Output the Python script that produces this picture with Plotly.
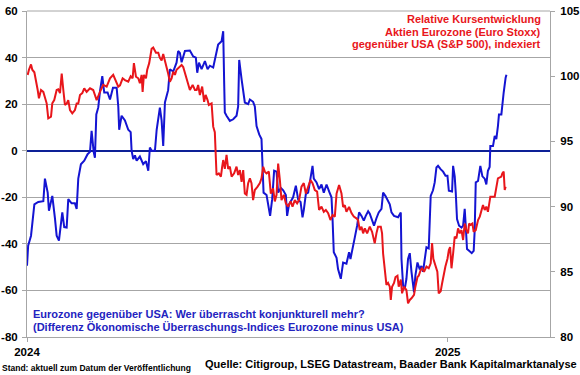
import pandas as pd
import plotly.graph_objects as go

# ---- data (days since 2024-01-01, values) ----
blue_days = [0, 1, 3.5, 6.4, 9.8, 14.2, 15.6, 18, 19.1, 22, 24.3, 25.8, 27.8, 29.6, 30.7, 32.4, 34.5, 35.9, 38.8, 41.7, 43.2, 44.6, 46.9, 49.8, 52.7, 54.8, 56.2, 58, 59.1, 60.3, 62, 63.5, 65.5, 67.2, 70.1, 72.2, 74.8, 78, 79.4, 80.2, 82.3, 85.2, 88.1, 90.2, 91, 92.4, 93.9, 95.4, 98.2, 101.1, 103.5, 105.5, 106.9, 108.4, 111.3, 112.8, 114.2, 115.6, 117.1, 118.5, 120, 122.8, 124.3, 127.2, 130.1, 131.5, 133, 134.5, 137.4, 141.7, 144.6, 146.9, 148.1, 149.6, 151.9, 154.8, 157.1, 159.1, 162, 164, 166.3, 169.3, 170.7, 171.5, 172.1, 173.6, 176.5, 179.4, 182.3, 183.7, 184.6, 186.7, 189.5, 192.4, 193.9, 196.7, 198.2, 199.7, 202, 204, 204.9, 205.8, 208.4, 209.8, 211.5, 213.3, 215, 217.1, 218.5, 220.8, 222.9, 225.2, 226.3, 228, 230.1, 231.5, 233.9, 235.9, 238, 239.7, 240.8, 242.6, 244.6, 246.6, 248.4, 249.5, 251.9, 254.1, 256.2, 258.2, 260.6, 262.8, 264.9, 265.8, 266.9, 269.3, 270.6, 273, 275, 277.9, 280.2, 281.4, 283.2, 285.2, 287.2, 288.9, 291, 293, 294.7, 296.8, 298.2, 299.7, 301.9, 304, 306, 308.4, 309.8, 311.9, 313.6, 315.6, 317.1, 319.3, 322.8, 325.2, 325.8, 327.2, 328.6, 330.1, 331.5, 333, 334.5, 336.7, 337.9, 339.7, 341.7, 343.1, 344.5, 346, 347.5, 349.5, 350.4, 351.2, 353.2, 354.7, 356.2, 357.6, 360, 362, 364.1, 365.8, 367, 369.8, 370.7, 372.1, 373, 374.1, 375.9, 378, 379.4, 380.8, 381.7, 382.8, 384.6, 386.9, 388.6, 389.5, 390.4, 392.4, 394.4, 396.2, 398.2, 399.6, 401, 402.5, 403.1, 405.4, 406.9, 408.3, 409.7, 410.6, 412.7, 413.5, 414.7, 416.4, 417.1]
blue_vals = [-49.4, -40.8, -36.5, -23, -22, -21.7, -12, -18, -25.8, -19.4, -29, -36.5, -38.6, -30, -26.5, -32.8, -33, -20.8, -22.6, -22.6, -25, -12, -5.8, -4.3, -1.5, -0.5, 8.5, -0.5, -3, 15.6, 18.6, 25.6, 32, 25, 25, 22, 27, 27, 19, 9, 15, 13, 9, 8, 0, -3.6, -2, -4.3, -2.5, -5.8, -4.5, -8.6, 1.4, 0, 0, 9, 15, 18.5, 13, 2, 20.7, 26, 35, 34, 37.8, 42.8, 42, 38, 42.8, 43, 40.5, 40, 33.5, 37.8, 35, 38.5, 35, 36.5, 35.7, 40.6, 45.6, 47, 51.3, 30, 16.4, 15, 12.8, 13.5, 15, 19, 39, 30.6, 20.7, 20, 22, 21, 19, 10.6, 7, 5, -5, -18, -19, -23.5, -28, -20.8, -8.6, -9, -18, -16, -17, -19, -28, -23, -21.5, -20, -15, -21, -22, -28.6, -25.5, -18.5, -18, -12, -6.5, -12, -13.6, -16.5, -14.5, -18, -14.5, -17.5, -20, -29, -43.6, -46, -50.8, -55, -48, -48.5, -43.6, -46.5, -41.3, -37.2, -32.2, -26.5, -28, -30, -28, -26, -27, -29, -32.2, -29, -26.5, -25, -18, -19.5, -21, -23, -26.5, -28, -28.6, -26.5, -46.5, -58, -59.4, -55, -46.5, -44, -52, -60.8, -53.5, -48, -51, -49.5, -52, -46.5, -41.5, -42, -32.2, -19.4, -17, -13.6, -7.2, -6.5, -8, -9, -10.8, -10.8, -17.2, -17.5, -6.5, -11, -18, -29.4, -32.2, -33, -32.2, -25, -32.2, -42.2, -43, -44, -43, -34, -13.6, -13, -6.5, -11, -12, -14.5, -8.6, -7, 2, 2, 6.3, 5, 10.6, 15.6, 15.6, 20.7, 25, 31.4, 32.6]

red_days = [0.6, 1.7, 3.5, 4.6, 6.4, 7.5, 9.3, 10.4, 12.2, 14.2, 15.6, 17.1, 18.5, 20.9, 22, 23.7, 25.8, 27.2, 28.7, 30.2, 31.6, 33, 34.5, 35.9, 37.4, 39.4, 41.7, 43.2, 44.6, 46.1, 48.1, 49.8, 51.9, 54.8, 57.6, 60.6, 63.5, 66.3, 69.3, 72.2, 75, 77.4, 79.4, 80.9, 83.2, 85.2, 88.1, 90.2, 91.9, 93, 94.8, 96.8, 98.2, 99.7, 100.6, 101.7, 103.5, 104.6, 106.3, 108.4, 109.8, 112.2, 114.2, 115.6, 117.1, 118.5, 120, 121.5, 122.8, 124.3, 125.8, 127.2, 128.7, 130.1, 133, 134.5, 135.9, 138.2, 140.2, 141.7, 144.1, 146.1, 147.6, 148.9, 150.4, 152.4, 154.1, 155.4, 157.1, 158.2, 160.6, 162, 163.4, 164, 164.9, 166.9, 168.7, 169.8, 170.7, 172.1, 173.6, 175, 176.5, 178, 180.2, 182.3, 183.7, 185.2, 186.7, 188.1, 189.5, 191, 192.4, 193.9, 195.3, 196.7, 198.2, 200.6, 202.6, 204, 205.5, 206.9, 208.4, 210.4, 212.1, 214.1, 215.6, 217.1, 218.5, 220, 221.4, 223.4, 225.2, 227.2, 229.3, 231, 233, 235, 236.7, 238.8, 240.8, 242.6, 244.6, 246.6, 248.4, 250.4, 252.4, 254.1, 256.2, 258.2, 260, 262, 264, 265.8, 267.8, 269.3, 271.5, 273.6, 275, 276.5, 277.9, 280.2, 282.3, 284.3, 286.6, 288, 289.5, 291, 292.4, 293.9, 295.9, 298.2, 300.2, 302.5, 304, 305.4, 307.8, 308.9, 309.8, 311.2, 312.7, 314.1, 315.6, 316.5, 317.6, 319.3, 320.6, 322.3, 323.4, 325.2, 326.3, 328, 330.1, 331.5, 333, 334.5, 336.7, 337.9, 339.7, 340.8, 342.5, 343.7, 345.4, 347.5, 349.5, 351.2, 352.4, 353.5, 355.3, 357, 358.2, 359.9, 361.1, 362.8, 364, 365.8, 367, 368.1, 369.3, 370.7, 372.1, 373.6, 375, 376.5, 378, 379.4, 380.8, 382.3, 383.7, 384.6, 385.8, 387.5, 388.6, 390.4, 392.4, 393.9, 395.3, 396.7, 398.2, 399.6, 401, 401.9, 403.1, 406.9, 408.3, 409.7, 412.7, 413.5, 414.7, 415.6, 416.4]
red_vals = [100.1, 100.5, 100.9, 100.5, 100.3, 99.84, 98.94, 98.3, 98.94, 98.8, 98.3, 97.92, 96.77, 96.9, 97.92, 98.17, 98.94, 99.0, 98.7, 100.2, 98.94, 97.8, 97.9, 98.17, 97.4, 97.15, 97.4, 97.9, 97.9, 98.56, 98.7, 99.07, 98.8, 99.07, 98.94, 98.17, 98.8, 99.33, 99.2, 99.84, 100.1, 99.6, 99.2, 99.3, 99.84, 99.7, 99.58, 100.0, 99.84, 101.0, 99.96, 99.84, 99.46, 100.1, 98.8, 100.1, 99.84, 100.5, 101.0, 102.1, 102.2, 101.8, 101.8, 101.4, 101.2, 101.7, 101.2, 100.8, 100.2, 99.58, 99.84, 100.35, 100.1, 100.5, 100.7, 100.86, 100.7, 99.96, 99.46, 98.94, 99.33, 98.94, 98.94, 99.33, 98.56, 99.2, 98.04, 98.56, 98.17, 97.8, 97.92, 96.13, 95.7, 94.21, 92.42, 92.55, 92.3, 93.06, 93.57, 92.9, 93.96, 92.9, 93.06, 92.3, 92.55, 93.06, 92.42, 92.8, 91.9, 92.8, 91.0, 90.9, 91.8, 92.17, 91.8, 90.5, 91.27, 91.53, 91.8, 92.17, 93.06, 92.68, 92.55, 92.68, 91.0, 91.4, 90.4, 90.9, 93.3, 92.04, 90.5, 90.9, 90.25, 90.0, 90.4, 90.0, 90.5, 90.25, 90.5, 91.53, 91.8, 91.0, 91.53, 92.04, 91.8, 91.27, 91.15, 89.74, 90.0, 89.6, 89.74, 89.5, 88.97, 89.36, 89.23, 91.0, 91.66, 91.0, 89.97, 90.1, 89.6, 89.97, 89.5, 89.23, 89.1, 88.97, 88.2, 88.46, 87.95, 88.33, 87.95, 88.46, 88.07, 87.18, 87.95, 88.46, 88.46, 87.95, 86.4, 85.4, 84.0, 84.15, 83.86, 82.84, 83.86, 84.15, 84.6, 84.7, 83.86, 84.4, 83.35, 83.86, 83.6, 82.58, 82.84, 82.97, 83.23, 83.86, 84.6, 84.7, 85.14, 85.27, 85.0, 85.4, 85.27, 85.65, 87.2, 86.0, 85.5, 85.0, 83.35, 83.5, 84.1, 84.9, 85.4, 86.0, 86.67, 86.9, 85.27, 86.4, 87.7, 87.56, 88.33, 87.95, 88.2, 87.44, 88.7, 88.2, 87.95, 88.7, 88.6, 88.7, 88.07, 88.2, 88.97, 89.23, 89.6, 90.12, 89.74, 90.0, 89.6, 90.0, 90.76, 90.76, 91.53, 92.17, 92.3, 92.55, 92.68, 91.27, 91.53]

left_ticks = [-80, -60, -40, -20, 0, 20, 40, 60]
left_labels = ["-80", "-60", "-40", "-20", "0", "20", "40", "60"]
right_ticks = [80, 85, 90, 95, 100, 105]
x_ticks = ["2024-01-01", "2025-01-01"]
x_labels = ["2024", "2025"]

red_title = ["Relative Kursentwicklung", "Aktien Eurozone (Euro Stoxx)", "gegenüber USA (S&amp;P 500), indexiert"]
blue_title = ["Eurozone gegenüber USA: Wer überrascht konjunkturell mehr?",
              "(Differenz Ökonomische Überraschungs-Indices Eurozone minus USA)"]
source = "Quelle: Citigroup, LSEG Datastream, Baader Bank Kapitalmarktanalyse"
stand = "Stand: aktuell zum Datum der Veröffentlichung"

base = pd.Timestamp("2024-01-01")
blue_x = base + pd.to_timedelta(blue_days, unit="D")
red_x = base + pd.to_timedelta(red_days, unit="D")

RED = "#e8161b"
BLUE = "#1414d2"
TEXTBLUE = "#2323c0"
ZERO = "#0d2096"
GRID = "#a6a6a6"
FONT = "Arial, Liberation Sans, sans-serif"

fig = go.Figure()
fig.add_trace(go.Scatter(x=blue_x, y=blue_vals, mode="lines",
                         line=dict(color=BLUE, width=2), yaxis="y", showlegend=False))
fig.add_trace(go.Scatter(x=red_x, y=red_vals, mode="lines",
                         line=dict(color=RED, width=2), yaxis="y2", showlegend=False))

tick_font = dict(family=FONT, size=11.5, color="black", weight="bold")
fig.update_layout(
    width=580, height=375,
    margin=dict(l=27, r=30, t=11, b=38, autoexpand=False),
    paper_bgcolor="white", plot_bgcolor="white",
    font=dict(family=FONT, size=11, color="black"),
    xaxis=dict(range=["2024-01-01", "2025-03-31"], tickvals=x_ticks, ticktext=x_labels,
               showgrid=False, showline=True, linecolor=GRID, linewidth=1,
               ticks="outside", ticklen=4, tickcolor=GRID, automargin=False,
               tickfont=tick_font, zeroline=False),
    yaxis=dict(range=[-80, 60], tickvals=left_ticks, ticktext=left_labels,
               showgrid=True, gridcolor=GRID, gridwidth=1,
               showline=True, linecolor=GRID, linewidth=1,
               ticks="outside", ticklen=4, tickcolor=GRID, automargin=False,
               tickfont=tick_font,
               zeroline=True, zerolinecolor=ZERO, zerolinewidth=2,
               ticklabelstandoff=2),
    yaxis2=dict(range=[80, 105], tickvals=right_ticks, overlaying="y", side="right",
                showgrid=False, showline=True, linecolor=GRID, linewidth=1,
                ticks="outside", ticklen=4, tickcolor=GRID, automargin=False,
                tickfont=tick_font, zeroline=False, ticklabelstandoff=3),
)

# top border line (gray)
fig.add_shape(type="line", xref="paper", yref="paper", x0=0, x1=1, y0=1, y1=1,
              line=dict(color=GRID, width=1))

red_y = [0.9755, 0.9356, 0.8988]
for t, yy in zip(red_title, red_y):
    fig.add_annotation(text=t, xref="paper", yref="paper", x=0.9866, y=yy,
                       xanchor="right", yanchor="middle", showarrow=False,
                       font=dict(family=FONT, size=11, color=RED, weight="bold"))
blue_y = [0.0706, 0.0307]
for t, yy in zip(blue_title, blue_y):
    fig.add_annotation(text=t, xref="paper", yref="paper", x=0.0076, y=yy,
                       xanchor="left", yanchor="middle", showarrow=False,
                       font=dict(family=FONT, size=11, color=TEXTBLUE, weight="bold"))

fig.add_annotation(text=source, xref="paper", yref="paper", x=1.0555, y=-0.0830,
                   xanchor="right", yanchor="middle", showarrow=False,
                   font=dict(family=FONT, size=11, color="black", weight="bold"))
fig.add_annotation(text=stand, xref="paper", yref="paper", x=-0.0516, y=-0.0951,
                   xanchor="left", yanchor="middle", showarrow=False,
                   font=dict(family=FONT, size=8.5, color="black", weight="bold"))

fig.write_html("out.html", config={"displayModeBar": False},
               post_script="document.body.style.margin='0';document.body.style.overflow='hidden';")
